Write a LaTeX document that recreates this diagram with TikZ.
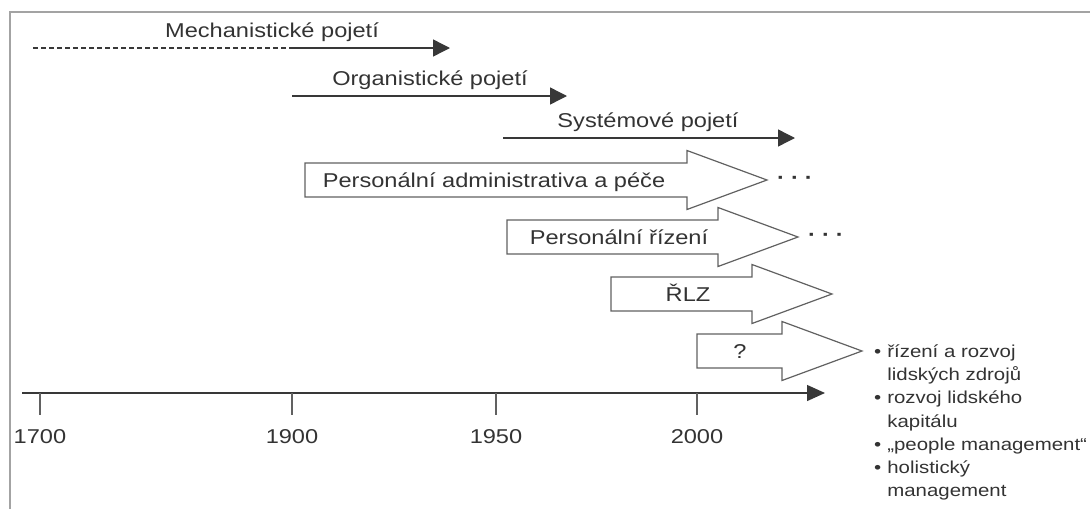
\documentclass[tikz,border=0pt]{standalone}
\usepackage{fontspec}
\setmainfont{Liberation Sans}[FakeStretch=1.18]
\usepackage{tikz}
\usetikzlibrary{arrows.meta}
\definecolor{linegray}{gray}{0.22}
\definecolor{boxgray}{gray}{0.38}
\definecolor{framegray}{gray}{0.64}
\definecolor{textgray}{gray}{0.2}
\newcommand{\bigfont}{\fontsize{20}{24}\selectfont}
\newcommand{\listfont}{\fontsize{17.3}{23.2}\selectfont}
\newcommand{\moredots}{\bfseries ·\kern6pt·\kern6pt·}
% #1 name, #2 left end, #3 head base, #4 middle line
\newcommand{\blockarrow}[4]{%
  \draw[blockline] (#2,#4-17) -- (#3,#4-17) -- (#3,#4-29.5) -- (#3+80,#4) coordinate (#1-tip)
    -- (#3,#4+29.5) -- (#3,#4+17) -- (#2,#4+17) -- cycle;}

\begin{document}
\begin{tikzpicture}[x=1pt,y=-1pt,
  every node/.style={text=textgray,inner sep=0pt},
  bigtext/.style={font=\bigfont},
  listtext/.style={font=\listfont},
  era/.style={draw=linegray,line width=1.4pt,-{Triangle[length=17pt,width=17pt]}},
  blockline/.style={draw=boxgray,line width=1.2pt,fill=white},
  tickline/.style={draw=boxgray,line width=1.4pt}]
 \useasboundingbox (0,0) rectangle (1090,509);
 \draw[framegray,line width=2.5pt] (10,509) -- (10,12) -- (1090,12);

 \coordinate (mech-start) at (33,48);
 \coordinate (mech-mid) at (290,48);
 \coordinate (mech-end) at (450,48);
 \coordinate (org-start) at (292,96);
 \coordinate (org-end) at (567,96);
 \coordinate (sys-start) at (503,138);
 \coordinate (sys-end) at (795,138);
 \node[bigtext,anchor=base] (mech) at (272,37) {Mechanistické pojetí};
 \node[bigtext,anchor=base] (org) at (430,85) {Organistické pojetí};
 \node[bigtext,anchor=base] (sys) at (648,127) {Systémové pojetí};
 \draw[draw=linegray,line width=1.4pt,dash pattern=on 5pt off 3pt] (mech-start) -- (mech-mid);
 \draw[era] (mech-mid) -- (mech-end);
 \draw[era] (org-start) -- (org-end);
 \draw[era] (sys-start) -- (sys-end);

 \blockarrow{pad}{305}{687}{180}
 \blockarrow{pr}{507}{718}{237}
 \blockarrow{rlz}{611}{752}{294}
 \blockarrow{next}{697}{782}{351}
 \node[bigtext,anchor=base] (padtext) at (494,187.5) {Personální administrativa a péče};
 \node[bigtext,anchor=base] (prtext) at (619,244.5) {Personální řízení};
 \node[bigtext,anchor=base] (rlztext) at (688,301.5) {ŘLZ};
 \node[bigtext,anchor=base] (nexttext) at (740,358.5) {?};
 \node[bigtext,anchor=west] (paddots) at ([xshift=10pt]pad-tip) {\moredots};
 \node[bigtext,anchor=west] (prdots) at ([xshift=10pt]pr-tip) {\moredots};

 \node[listtext,anchor=base west] (outlook) at (874,357.5) {%
  \begin{tabular}[t]{@{}l@{\hspace{6pt}}l@{}}
   • & řízení a rozvoj\\
     & lidských zdrojů\\
   • & rozvoj lidského\\
     & kapitálu\\
   • & „people management“\\
   • & holistický\\
     & management
  \end{tabular}};

 \coordinate (axis-start) at (22,393);
 \coordinate (axis-end) at (825,393);
 \draw[draw=linegray,line width=1.4pt,-{Triangle[length=18pt,width=16pt]}] (axis-start) -- (axis-end);
 \foreach \x/\yr in {40/1700,292/1900,496/1950,697/2000}{
  \draw[tickline] (\x,393) -- (\x,415);
  \node[bigtext,anchor=base] (yr-\yr) at (\x,443) {\yr};
 }
\end{tikzpicture}
\end{document}
